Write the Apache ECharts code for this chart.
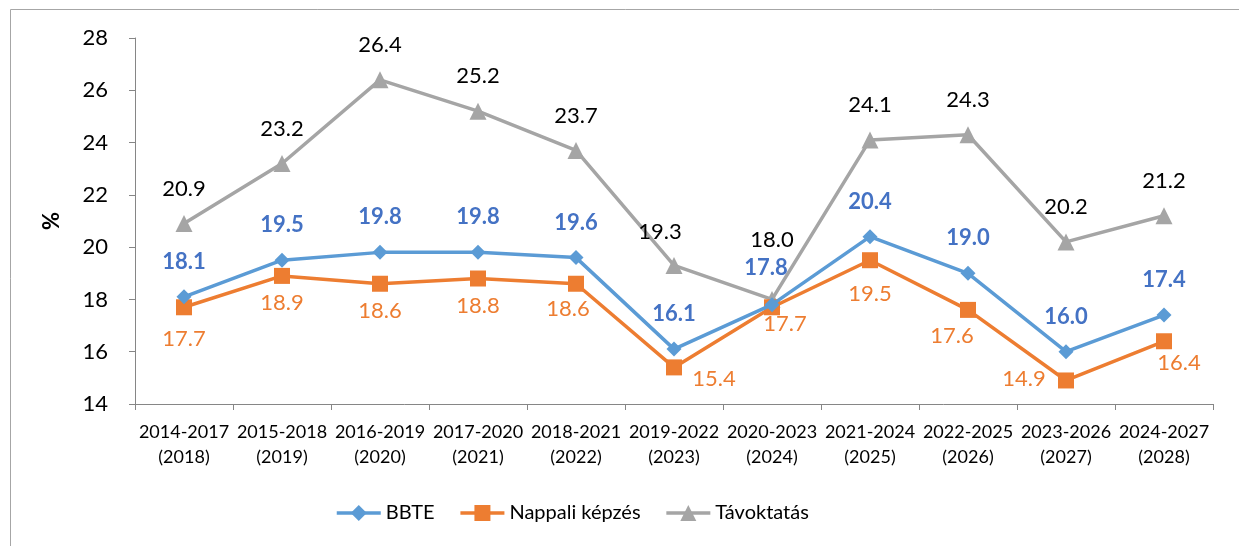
<!DOCTYPE html>
<html>
<head>
<meta charset="utf-8">
<script src="https://cdn.jsdelivr.net/npm/echarts@6/dist/echarts.min.js"></script>
<style>
  html, body { margin: 0; padding: 0; background: #fff; }
  #chart { width: 1239px; height: 546px; }
</style>
</head>
<body>
<div id="chart"></div>
<script>
var categories = ['2014-2017\n(2018)', '2015-2018\n(2019)', '2016-2019\n(2020)', '2017-2020\n(2021)',
  '2018-2021\n(2022)', '2019-2022\n(2023)', '2020-2023\n(2024)', '2021-2024\n(2025)',
  '2022-2025\n(2026)', '2023-2026\n(2027)', '2024-2027\n(2028)'];
var bbte = [18.1, 19.5, 19.8, 19.8, 19.6, 16.1, 17.8, 20.4, 19.0, 16.0, 17.4];
var nappali = [17.7, 18.9, 18.6, 18.8, 18.6, 15.4, 17.7, 19.5, 17.6, 14.9, 16.4];
var tavoktatas = [20.9, 23.2, 26.4, 25.2, 23.7, 19.3, 18.0, 24.1, 24.3, 20.2, 21.2];
var yTicks = { min: 14, max: 28, step: 2 };

var font = 'Lato, "Noto Sans", sans-serif';

// label placement (centre offset from the point), per series, with a few hand moved ones
function withLabels(values, defOffset, moved) {
  return values.map(function (v, i) {
    return { value: v, label: { offset: moved[i] || defOffset } };
  });
}

var chart = echarts.init(document.getElementById('chart'));
chart.setOption({
  animation: false,
  textStyle: { fontFamily: font },
  graphic: [{
    type: 'rect', left: 8, top: 7, silent: true,
    shape: { width: 1400, height: 700 },
    style: { fill: 'none', stroke: '#a6a6a6', lineWidth: 1 }
  }],
  grid: { left: 135, right: 26, top: 38, bottom: 142 },
  legend: {
    top: 498, left: 330,
    itemWidth: 44, itemHeight: 20, itemGap: 24,
    lineStyle: { width: 3.5 },
    textStyle: { fontSize: 20, color: '#000', fontFamily: font },
    data: ['BBTE', 'Nappali képzés', 'Távoktatás']
  },
  xAxis: {
    type: 'category',
    data: categories,
    boundaryGap: true,
    axisLine: { lineStyle: { color: '#868686', width: 1 } },
    axisTick: { show: true, length: 6, alignWithLabel: false, lineStyle: { color: '#868686' } },
    axisLabel: { interval: 0, margin: 16, fontSize: 18, lineHeight: 25, color: '#000', fontFamily: font },
    splitLine: { show: false }
  },
  yAxis: {
    type: 'value',
    min: yTicks.min, max: yTicks.max, interval: yTicks.step,
    name: '%', nameLocation: 'middle', nameGap: 72, nameRotate: 90,
    nameTextStyle: { fontSize: 22, fontWeight: 'bold', color: '#000', fontFamily: font },
    axisLine: { show: true, lineStyle: { color: '#868686', width: 1 } },
    axisTick: { show: true, length: 6, lineStyle: { color: '#868686' } },
    axisLabel: { margin: 27, fontSize: 22, color: '#000', fontFamily: font },
    splitLine: { show: false }
  },
  series: [{
    name: 'BBTE', type: 'line',
    data: withLabels(bbte, [0, -35], { 6: [-6, -37] }),
    symbol: 'diamond', symbolSize: 15,
    lineStyle: { color: '#5B9BD5', width: 3.5 },
    itemStyle: { color: '#5B9BD5' },
    label: { show: true, position: 'inside', color: '#4472C4', fontWeight: 'bold', fontSize: 22, fontFamily: font,
      formatter: function (p) { return p.value.toFixed(1); } },
    z: 4
  }, {
    name: 'Nappali képzés', type: 'line',
    data: withLabels(nappali, [0, 27], {
      0: [0, 32], 4: [-8, 25], 5: [40, 12], 6: [13, 17], 7: [0, 34],
      8: [-16, 26], 9: [-42, -2], 10: [15, 22]
    }),
    symbol: 'rect', symbolSize: 16,
    lineStyle: { color: '#ED7D31', width: 3.5 },
    itemStyle: { color: '#ED7D31' },
    label: { show: true, position: 'inside', color: '#ED7D31', fontSize: 22, fontFamily: font,
      formatter: function (p) { return p.value.toFixed(1); } },
    z: 3
  }, {
    name: 'Távoktatás', type: 'line',
    data: withLabels(tavoktatas, [0, -35], { 5: [-14, -34], 6: [0, -60] }),
    symbol: 'triangle', symbolSize: 17,
    lineStyle: { color: '#A5A5A5', width: 3.5 },
    itemStyle: { color: '#A5A5A5' },
    label: { show: true, position: 'inside', color: '#000', fontSize: 22, fontFamily: font,
      formatter: function (p) { return p.value.toFixed(1); } },
    z: 2
  }]
});
</script>
</body>
</html>
